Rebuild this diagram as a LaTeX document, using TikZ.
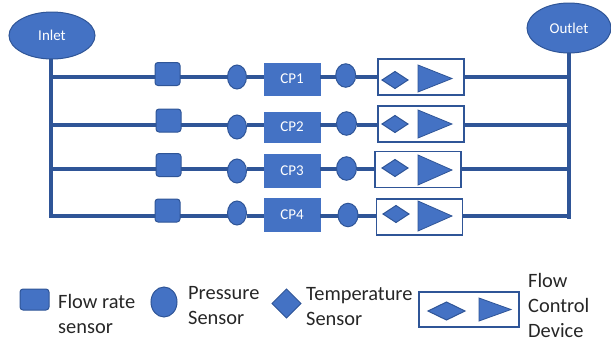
\documentclass[tikz,border=0pt]{standalone}
\usepackage{fontspec}
\setmainfont{Carlito}
\usetikzlibrary{shapes.geometric,calc}
\definecolor{fillb}{HTML}{4472C4}
\definecolor{edgeb}{HTML}{2F5597}
\tikzset{
  x=1pt,y=-1pt,
  solid shape/.style={draw=edgeb,fill=fillb,line width=1pt,inner sep=0pt,outer sep=0pt},
  port/.style={solid shape,ellipse,text=white,font=\fontsize{15}{17}\selectfont},
  flowbox/.style={solid shape,rounded corners=3pt,minimum width=25pt,minimum height=23pt},
  presscirc/.style={solid shape,ellipse,minimum width=19pt,minimum height=24pt},
  cpbox/.style={draw=fillb,fill=fillb,inner sep=0pt,outer sep=0pt,minimum width=56pt,text=white,font=\fontsize{15}{17}\selectfont},
  valvebox/.style={draw=edgeb,fill=white,line width=1.2pt,inner sep=0pt,outer sep=0pt,minimum width=86pt,minimum height=36pt},
  tempdia/.style={solid shape,diamond,minimum width=26pt,minimum height=17pt},
  pipe/.style={draw=edgeb,line width=4pt},
  legend/.style={inner sep=0pt,align=left,anchor=west,font=\fontsize{20.4}{25}\selectfont,text=black!85},
}
\newcommand{\valvetri}[3]{\filldraw[draw=edgeb,fill=fillb,line width=.8pt] (#1,#2) -- (#1,#3) -- ($(#1,#2)!.5!(#1,#3)+(34,0)$) -- cycle;}
\begin{document}
\begin{tikzpicture}
\useasboundingbox (0,0) rectangle (611,341);
\node[port,minimum width=86pt,minimum height=47pt] (inlet) at (52,35.5) {Inlet};
\node[port,minimum width=84pt,minimum height=50pt] (outlet) at (569,28) {Outlet};
\coordinate (inbot) at (51,218);
\coordinate (outbot) at (569,219);
% rows
\foreach \n/\ly/\fx/\fy/\pax/\pay/\cy/\ch/\pbx/\pby/\bx/\by/\dx/\dy/\ta/\tb in {
 1/77/167.5/74/237/77/79/32/345.7/75.5/421/77/395/80/65/92,
 2/125/168.5/120.5/237/127/127/30/346.5/123.5/421/124/395/124/110/138,
 3/169/168.5/165/237/171/170.5/33/346.5/168.5/418/169.5/395/168/155/185,
 4/216/167.5/210.5/237/213/214.5/33/348/215/419.5/217/396/214/201/231}{
  \coordinate (L\n) at (51,\ly);
  \coordinate (R\n) at (569,\ly);
  \node[flowbox] (fs\n) at (\fx,\fy) {};
  \node[presscirc] (pa\n) at (\pax,\pay) {};
  \node[cpbox,minimum height=\ch pt] (cp\n) at (292,\cy) {CP\n};
  \node[presscirc,minimum width=20pt,minimum height=23.5pt] (pb\n) at (\pbx,\pby) {};
  \node[valvebox] (vb\n) at (\bx,\by) {};
  \node[tempdia] (td\n) at (\dx,\dy) {};
  \valvetri{418}{\ta}{\tb}
  \draw[pipe] (L\n) -- (L\n -| fs\n.west);
  \draw[pipe] (L\n -| fs\n.east) -- (L\n -| pa\n.west);
  \draw[pipe] (L\n -| pa\n.east) -- (L\n -| cp\n.west);
  \draw[pipe] (L\n -| cp\n.east) -- (L\n -| pb\n.west);
  \draw[pipe] (L\n -| pb\n.east) -- (L\n -| vb\n.west);
  \draw[pipe] (L\n -| vb\n.east) -- (R\n);
}
\draw[pipe] (inlet.south -| inbot) -- (inbot);
\draw[pipe] (outlet.south) -- (outbot);
% legend
\node[flowbox,minimum width=29pt,minimum height=21pt] (lgf) at (34.5,299.5) {};
\node[legend] (lgft) at (58,314) {Flow rate\\sensor};
\node[presscirc,minimum width=26pt,minimum height=30pt] (lgp) at (164,302) {};
\node[legend] (lgpt) at (188,305.5) {Pressure\\Sensor};
\node[solid shape,diamond,minimum width=29pt,minimum height=29pt] (lgd) at (286.5,303.5) {};
\node[legend] (lgdt) at (306,306.5) {Temperature\\Sensor};
\node[valvebox,minimum width=100pt,minimum height=35pt] (lgb) at (469,309.5) {};
\node[tempdia,minimum width=37pt,minimum height=18pt] (lgbd) at (446.5,311) {};
\filldraw[draw=edgeb,fill=fillb,line width=.8pt] (479,298) -- (479,321) -- (511,309.5) -- cycle;
\node[legend] (lgbt) at (528,305) {Flow\\Control\\Device};
\end{tikzpicture}
\end{document}
